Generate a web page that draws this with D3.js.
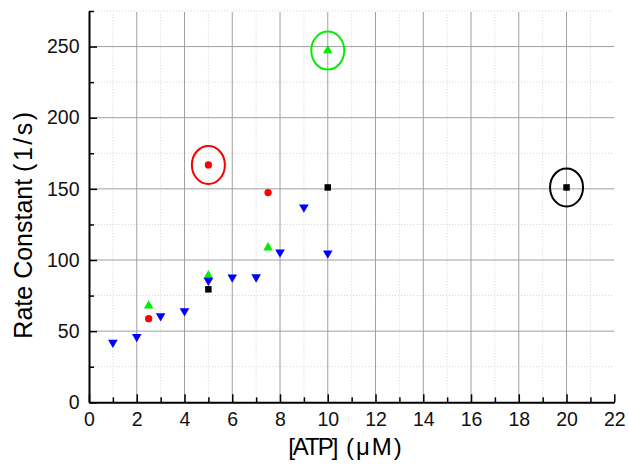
<!DOCTYPE html>
<html>
<head>
<meta charset="utf-8">
<script src="https://cdn.jsdelivr.net/npm/d3@7"></script>
<style>
  body { margin: 0; background: #fff; }
  text { font-family: "Liberation Sans", Arial, sans-serif; }
</style>
</head>
<body>
<script>
// data
var blackX = [5, 10, 20];
var blackY = [79.4, 151, 151];
var redX = [2.5, 5, 7.5];
var redY = [58.8, 166.8, 147.4];
var greenX = [2.5, 5, 7.5, 10];
var greenY = [67.9, 89, 108.7, 247.2];
var blueX = [1, 2, 3, 4, 5, 6, 7, 8, 9, 10];
var blueY = [42, 46.1, 60.7, 64.2, 85.5, 87.9, 88, 105.4, 137.1, 104.7];
// circled points
var circledX = [5, 10, 20];
var circledY = [166.8, 247.2, 151];
var circledType = ["red", "green", "black"];

var xTicks = [0, 2, 4, 6, 8, 10, 12, 14, 16, 18, 20, 22];
var yTicks = [0, 50, 100, 150, 200, 250];

var W = 628, H = 465;
var svg = d3.select("body").append("svg").attr("width", W).attr("height", H);

var x = d3.scaleLinear().domain([0, 22]).range([89, 614.3]);
var y = d3.scaleLinear().domain([0, 275]).range([402.3, 11]);

var xMinor = d3.range(1, 22, 2);
var yMinor = d3.range(25, 276, 50);

// minor grid (dotted)
svg.append("g").selectAll("line").data(xMinor).enter().append("line")
    .attr("x1", d => x(d)).attr("x2", d => x(d))
    .attr("y1", y(0)).attr("y2", 12)
    .attr("stroke", "#d4d4d4").attr("stroke-dasharray", "1,2");
svg.append("g").selectAll("line").data(yMinor).enter().append("line")
    .attr("x1", x(0)).attr("x2", x(22))
    .attr("y1", d => y(d)).attr("y2", d => y(d))
    .attr("stroke", "#d4d4d4").attr("stroke-dasharray", "1,2");

// major grid
svg.append("g").selectAll("line").data(xTicks.filter(d => d > 0 && d < 22)).enter().append("line")
    .attr("x1", d => x(d)).attr("x2", d => x(d))
    .attr("y1", y(0)).attr("y2", 12)
    .attr("stroke", "#a0a0a0");
svg.append("g").selectAll("line").data(yTicks.filter(d => d > 0)).enter().append("line")
    .attr("x1", x(0)).attr("x2", x(22))
    .attr("y1", d => y(d)).attr("y2", d => y(d))
    .attr("stroke", "#a0a0a0");

// axes
var xAxis = svg.append("g").attr("transform", "translate(0," + y(0) + ")")
    .call(d3.axisBottom(x).tickValues(xTicks).tickFormat(d3.format("d")).tickSizeInner(-8).tickSizeOuter(0).tickPadding(9.5));
var xAxisMinor = svg.append("g").attr("transform", "translate(0," + y(0) + ")")
    .call(d3.axisBottom(x).tickValues(xMinor).tickFormat("").tickSizeInner(-5).tickSizeOuter(0));
var yAxis = svg.append("g").attr("transform", "translate(" + x(0) + ",0)")
    .call(d3.axisLeft(y).tickValues(yTicks).tickFormat(d3.format("d")).tickSizeInner(-8).tickSizeOuter(0).tickPadding(9.5));
var yAxisMinor = svg.append("g").attr("transform", "translate(" + x(0) + ",0)")
    .call(d3.axisLeft(y).tickValues(yMinor).tickFormat("").tickSizeInner(-5).tickSizeOuter(0));

[xAxis, xAxisMinor, yAxis, yAxisMinor].forEach(function (g) {
    g.select(".domain").attr("stroke", "#000").attr("stroke-width", 2);
    g.selectAll(".tick line").attr("stroke", "#000").attr("stroke-width", 1.5);
    g.selectAll("text").attr("font-size", 19.5).attr("fill", "#111")
        .style("font-family", "'Liberation Sans', Arial, sans-serif");
});
xAxisMinor.select(".domain").remove();
yAxisMinor.select(".domain").remove();

// axis titles
var yTitle = svg.append("text")
    .attr("transform", "translate(32,224) rotate(-90)")
    .attr("text-anchor", "middle")
    .attr("font-size", 25)
    .attr("fill", "#000");
yTitle.append("tspan").text("Rate Constant ");
yTitle.append("tspan").attr("letter-spacing", 2.5).text("(1/s)");

var xTitle = svg.append("text")
    .attr("x", 346).attr("y", 455)
    .attr("text-anchor", "middle")
    .attr("font-size", 24)
    .attr("fill", "#000");
xTitle.append("tspan").attr("letter-spacing", -2).text("[ATP] ");
xTitle.append("tspan").attr("dx", 5).attr("letter-spacing", 2).text("(μM)");

function plot(xs, ys, shape, size, color, rot) {
    svg.append("g").selectAll("path").data(xs).enter().append("path")
        .attr("d", d3.symbol().type(shape).size(size))
        .attr("transform", function (d, i) {
            return "translate(" + x(d) + "," + y(ys[i]) + ")" + (rot ? " rotate(180)" : "");
        })
        .attr("fill", color);
}

plot(blackX, blackY, d3.symbolSquare, 42, "#000", false);
plot(redX, redY, d3.symbolCircle, 42, "#ff0000", false);
plot(greenX, greenY, d3.symbolTriangle, 40, "#00ee00", false);
plot(blueX, blueY, d3.symbolTriangle, 40, "#0000ff", true);

var ringColor = { red: "#ff0000", green: "#00ee00", black: "#000" };
svg.append("g").selectAll("ellipse").data(circledX).enter().append("ellipse")
    .attr("cx", d => x(d))
    .attr("cy", (d, i) => y(circledY[i]))
    .attr("rx", 16.5).attr("ry", 19)
    .attr("fill", "none")
    .attr("stroke", (d, i) => ringColor[circledType[i]])
    .attr("stroke-width", 2);
</script>
</body>
</html>
